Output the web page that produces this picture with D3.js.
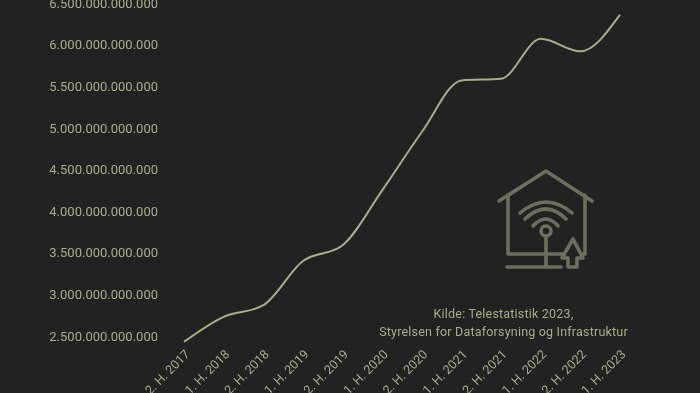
<!DOCTYPE html>
<html>
<head>
<meta charset="utf-8">
<script src="https://cdn.jsdelivr.net/npm/d3@7"></script>
<style>
    html, body { margin: 0; padding: 0; background: #222222; overflow: hidden; }
    svg { will-change: transform; }
    text { font-family: Roboto, sans-serif; fill: #a9ae85; }
</style>
</head>
<body>
<div id="chart"></div>
<script>
const periods = ["2. H. 2017", "1. H. 2018", "2. H. 2018", "1. H. 2019", "2. H. 2019", "1. H. 2020",
    "2. H. 2020", "1. H. 2021", "2. H. 2021", "1. H. 2022", "2. H. 2022", "1. H. 2023"];
const traffic = [2.43e12, 2.73e12, 2.87e12, 3.40e12, 3.59e12, 4.25e12,
    4.95e12, 5.57e12, 5.59e12, 6.07e12, 5.92e12, 6.36e12];
const yTicks = [2.5e12, 3e12, 3.5e12, 4e12, 4.5e12, 5e12, 5.5e12, 6e12, 6.5e12];
const sourceLines = ["Kilde: Telestatistik 2023,", "Styrelsen for Dataforsyning og Infrastruktur"];

const width = 700, height = 393;
const lineColor = "#a9ae85", iconColor = "#6d6f5b";

const svg = d3.select("#chart").append("svg")
    .attr("width", width)
    .attr("height", height)
    .style("display", "block");

const xScale = d3.scalePoint().domain(periods).range([184, 620]);
const yScale = d3.scaleLinear().domain([2.5e12, 6.5e12]).range([336, 3]);

// dots as thousand separators
const danish = d3.formatLocale({decimal: ",", thousands: ".", grouping: [3], currency: ["", " kr"]});

// y axis, no line or tick marks
const yAxis = d3.axisLeft(yScale).tickValues(yTicks).tickFormat(danish.format(",d")).tickSize(0).tickPadding(0);
const yGroup = svg.append("g").attr("transform", "translate(158,0)").call(yAxis);
yGroup.select(".domain").remove();
yGroup.selectAll("text").style("font-size", "13px");

// x axis, labels turned 45 degrees
const xAxis = d3.axisBottom(xScale).tickSize(0).tickPadding(0);
const xGroup = svg.append("g").attr("transform", "translate(0,353)").call(xAxis);
xGroup.select(".domain").remove();
xGroup.selectAll("text")
    .style("font-size", "12.5px")
    .attr("text-anchor", "end")
    .attr("dy", 0)
    .attr("transform", "translate(6,2) rotate(-45)");

// line
const line = d3.line()
    .x((d, i) => xScale(periods[i]))
    .y(d => yScale(d))
    .curve(d3.curveMonotoneX);

svg.append("path")
    .datum(traffic)
    .attr("fill", "none")
    .attr("stroke", lineColor)
    .attr("stroke-width", 2)
    .attr("d", line);

// source note
svg.append("g").selectAll("text")
    .data(sourceLines)
    .join("text")
    .attr("x", 503.5)
    .attr("y", (d, i) => 318 + i * 18)
    .attr("text-anchor", "middle")
    .style("font-size", "12.5px")
    .style("letter-spacing", "0.2px")
    .text(d => d);

// house icon
const icon = svg.append("g")
    .attr("fill", "none")
    .attr("stroke", iconColor)
    .attr("stroke-width", 3.6)
    .attr("stroke-linecap", "round")
    .attr("stroke-linejoin", "round");

const iconPaths = [
    "M499,201 L546,171 L592,201",
    "M508,195 V254 H564",
    "M585,195 V254 H583",
    "M507,267 H561",
    "M546,237 V267",
    "M533,226 Q546,212 558,226",
    "M525,219 Q546,199 566,219",
    "M520,213 Q546,191 572,213",
    "M568,267 V258 H562 L573,239 L583,258 H577 V267 Z"
];
icon.selectAll("path").data(iconPaths).join("path").attr("d", d => d);
icon.append("circle").attr("cx", 546).attr("cy", 231).attr("r", 5);
</script>
</body>
</html>
